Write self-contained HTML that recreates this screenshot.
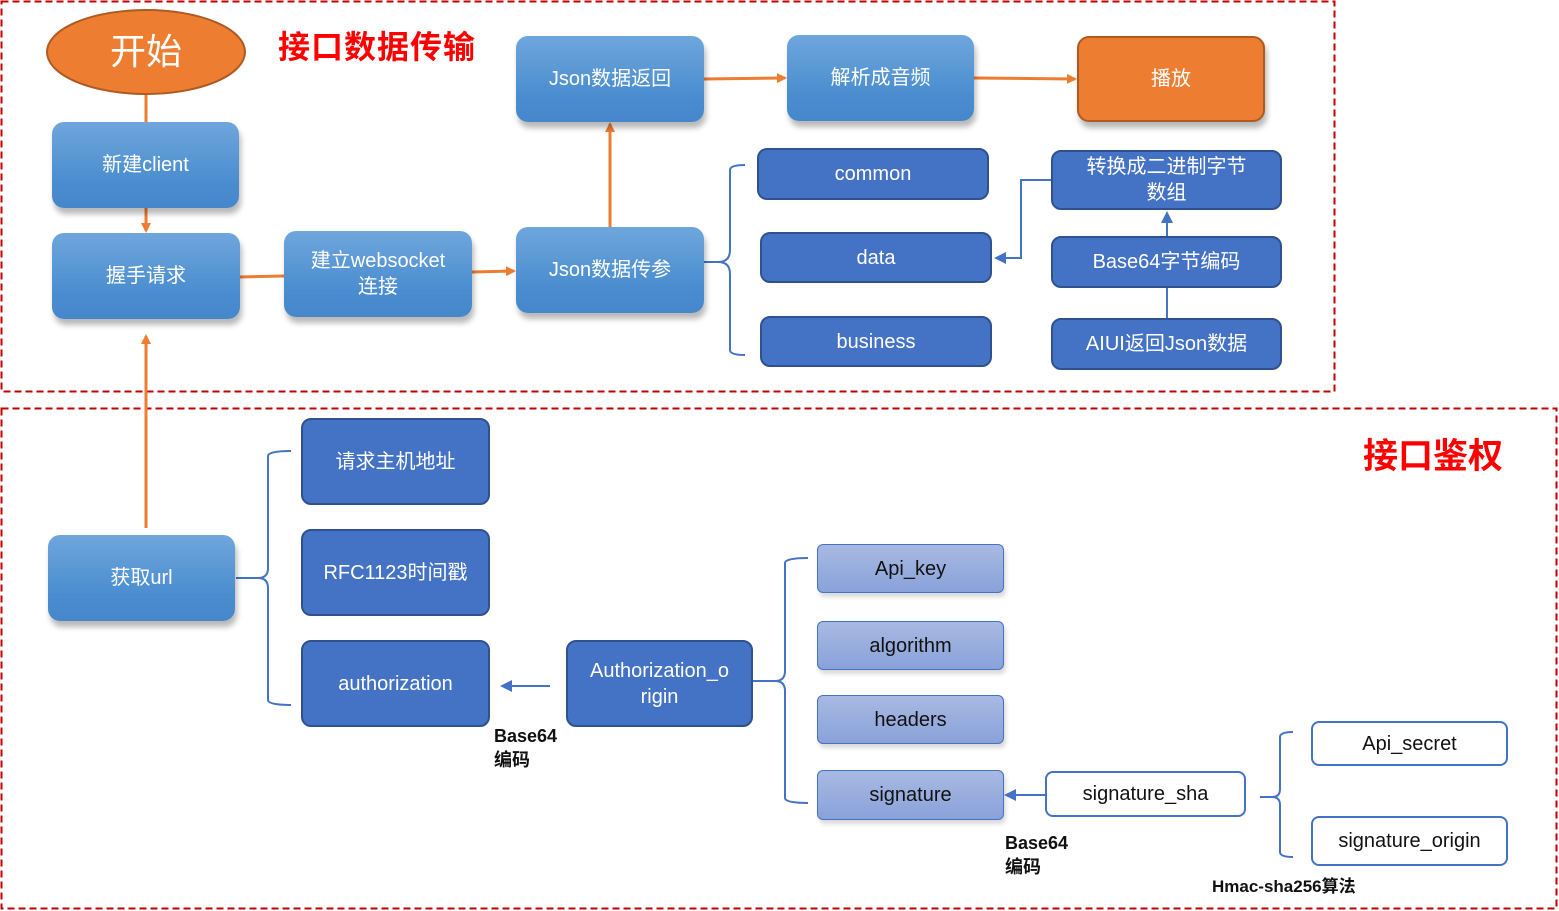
<!DOCTYPE html>
<html><head><meta charset="utf-8"><style>
body{margin:0;width:1559px;height:911px;background:#fff;position:relative;overflow:hidden;font-family:"Liberation Sans","Noto Sans CJK SC",sans-serif;}
.b{position:absolute;box-sizing:border-box;display:flex;align-items:center;justify-content:center;text-align:center;color:#fff;font-size:20px;line-height:26px;}
.g{background:linear-gradient(#6fa6dc,#4a8dcf 70%,#4687cb);border-radius:12px;box-shadow:2px 6px 6px rgba(0,0,0,0.28);}
.d{background:#4472c4;border:2px solid #2f528f;border-radius:10px;}
.l{background:linear-gradient(#a8b9e2,#8aa2da);border:1.5px solid #4472c4;border-radius:6px;color:#111;box-shadow:2px 4px 4px rgba(0,0,0,0.15);}
.w{background:#fff;border:2px solid #4472c4;border-radius:8px;color:#111;}
.t{position:absolute;font-weight:bold;color:#111;font-size:18px;line-height:24px;}
</style></head><body>
<svg width="1559" height="911" style="position:absolute;left:0;top:0">
<defs>
<marker id="ao" markerWidth="10" markerHeight="10" refX="8" refY="5" orient="auto" markerUnits="userSpaceOnUse"><path d="M0,0L10,5L0,10z" fill="#ed7d31"/></marker>
<marker id="ab" markerWidth="12" markerHeight="12" refX="2" refY="6" orient="auto-start-reverse" markerUnits="userSpaceOnUse"><path d="M12,0L0,6L12,12z" fill="#4472c4"/></marker>
<marker id="abe" markerWidth="12" markerHeight="12" refX="10" refY="6" orient="auto" markerUnits="userSpaceOnUse"><path d="M0,0L12,6L0,12z" fill="#4472c4"/></marker>
</defs>
<rect x="1.5" y="1.5" width="1333" height="390" fill="none" stroke="#c00000" stroke-width="2" stroke-dasharray="7,4"/>
<rect x="1.5" y="408.5" width="1555" height="500" fill="none" stroke="#c00000" stroke-width="2" stroke-dasharray="7,4"/>
<g stroke="#ed7d31" stroke-width="3" fill="none">
<line x1="146" y1="95" x2="146" y2="122"/>
<line x1="146" y1="208" x2="146" y2="231" marker-end="url(#ao)"/>
<line x1="240" y1="277" x2="284" y2="276"/>
<line x1="472" y1="272" x2="514" y2="271" marker-end="url(#ao)"/>
<line x1="610" y1="227" x2="610" y2="124" marker-end="url(#ao)"/>
<line x1="704" y1="79" x2="785" y2="78" marker-end="url(#ao)"/>
<line x1="974" y1="78" x2="1075" y2="79" marker-end="url(#ao)"/>
<line x1="146" y1="528" x2="146" y2="336" marker-end="url(#ao)"/>
</g>
<g stroke="#4472c4" stroke-width="2" fill="none">
<path d="M704,262 H718 Q730,262 730,250 V170 Q730,165 745,165"/>
<path d="M718,262 Q730,262 730,274 V350 Q730,355 745,355"/>
<path d="M1051,180 H1021 V258 H996" marker-end="url(#abe)"/>
<line x1="1167" y1="236" x2="1167" y2="213" marker-end="url(#abe)"/>
<line x1="1167" y1="288" x2="1167" y2="318"/>
<path d="M236,578 H258 Q268,578 268,568 V456 Q268,451 291,451"/>
<path d="M258,578 Q268,578 268,588 V700 Q268,705 291,705"/>
<line x1="550" y1="686" x2="502" y2="686" marker-end="url(#abe)"/>
<path d="M753,681 H775 Q785,681 785,671 V563 Q785,558 808,558"/>
<path d="M775,681 Q785,681 785,691 V798 Q785,803 808,803"/>
<line x1="1045" y1="795" x2="1006" y2="795" marker-end="url(#abe)"/>
<path d="M1260,797 H1272 Q1280,797 1280,789 V737 Q1280,732 1293,732"/>
<path d="M1272,797 Q1280,797 1280,805 V852 Q1280,857 1293,857"/>
</g>
<ellipse cx="146" cy="52" rx="99" ry="42" fill="#ed7d31" stroke="#ae5a21" stroke-width="2"/>
</svg>
<div class="b" style="left:47;top:10px;left:47px;width:198px;height:84px;font-size:36px;">开始</div>
<div style="position:absolute;left:278px;top:22px;color:#ff0000;font-weight:bold;font-size:32px;font-family:'Noto Sans CJK SC',sans-serif;letter-spacing:1px;">接口数据传输</div>
<div style="position:absolute;left:1363px;top:428px;color:#ff0000;font-weight:bold;font-size:35px;font-family:'Noto Sans CJK SC',sans-serif;">接口鉴权</div>

<div class="b g" style="left:52px;top:122px;width:187px;height:86px;">新建client</div>
<div class="b g" style="left:52px;top:233px;width:188px;height:86px;">握手请求</div>
<div class="b g" style="left:284px;top:231px;width:188px;height:86px;">建立websocket<br>连接</div>
<div class="b g" style="left:516px;top:227px;width:188px;height:86px;">Json数据传参</div>
<div class="b g" style="left:516px;top:36px;width:188px;height:86px;">Json数据返回</div>
<div class="b g" style="left:787px;top:35px;width:187px;height:86px;">解析成音频</div>
<div class="b" style="left:1077px;top:36px;width:188px;height:86px;background:#ed7d31;border:2px solid #ae5a21;border-radius:12px;box-shadow:2px 6px 6px rgba(0,0,0,0.28);">播放</div>

<div class="b d" style="left:757px;top:148px;width:232px;height:52px;">common</div>
<div class="b d" style="left:760px;top:232px;width:232px;height:51px;">data</div>
<div class="b d" style="left:760px;top:316px;width:232px;height:51px;">business</div>
<div class="b d" style="left:1051px;top:150px;width:231px;height:60px;line-height:26px;">转换成二进制字节<br>数组</div>
<div class="b d" style="left:1051px;top:236px;width:231px;height:52px;">Base64字节编码</div>
<div class="b d" style="left:1051px;top:318px;width:231px;height:52px;">AIUI返回Json数据</div>

<div class="b g" style="left:48px;top:535px;width:187px;height:86px;">获取url</div>
<div class="b d" style="left:301px;top:418px;width:189px;height:87px;">请求主机地址</div>
<div class="b d" style="left:301px;top:529px;width:189px;height:87px;">RFC1123时间戳</div>
<div class="b d" style="left:301px;top:640px;width:189px;height:87px;">authorization</div>
<div class="b d" style="left:566px;top:640px;width:187px;height:87px;">Authorization_o<br>rigin</div>
<div class="t" style="left:494px;top:724px;">Base64<br>编码</div>

<div class="b l" style="left:817px;top:544px;width:187px;height:49px;">Api_key</div>
<div class="b l" style="left:817px;top:621px;width:187px;height:49px;">algorithm</div>
<div class="b l" style="left:817px;top:695px;width:187px;height:49px;">headers</div>
<div class="b l" style="left:817px;top:770px;width:187px;height:50px;">signature</div>
<div class="b w" style="left:1045px;top:771px;width:201px;height:46px;">signature_sha</div>
<div class="b w" style="left:1311px;top:721px;width:197px;height:45px;">Api_secret</div>
<div class="b w" style="left:1311px;top:816px;width:197px;height:50px;">signature_origin</div>
<div class="t" style="left:1005px;top:831px;">Base64<br>编码</div>
<div class="t" style="left:1212px;top:875px;font-size:17px;">Hmac-sha256算法</div>
</body></html>
